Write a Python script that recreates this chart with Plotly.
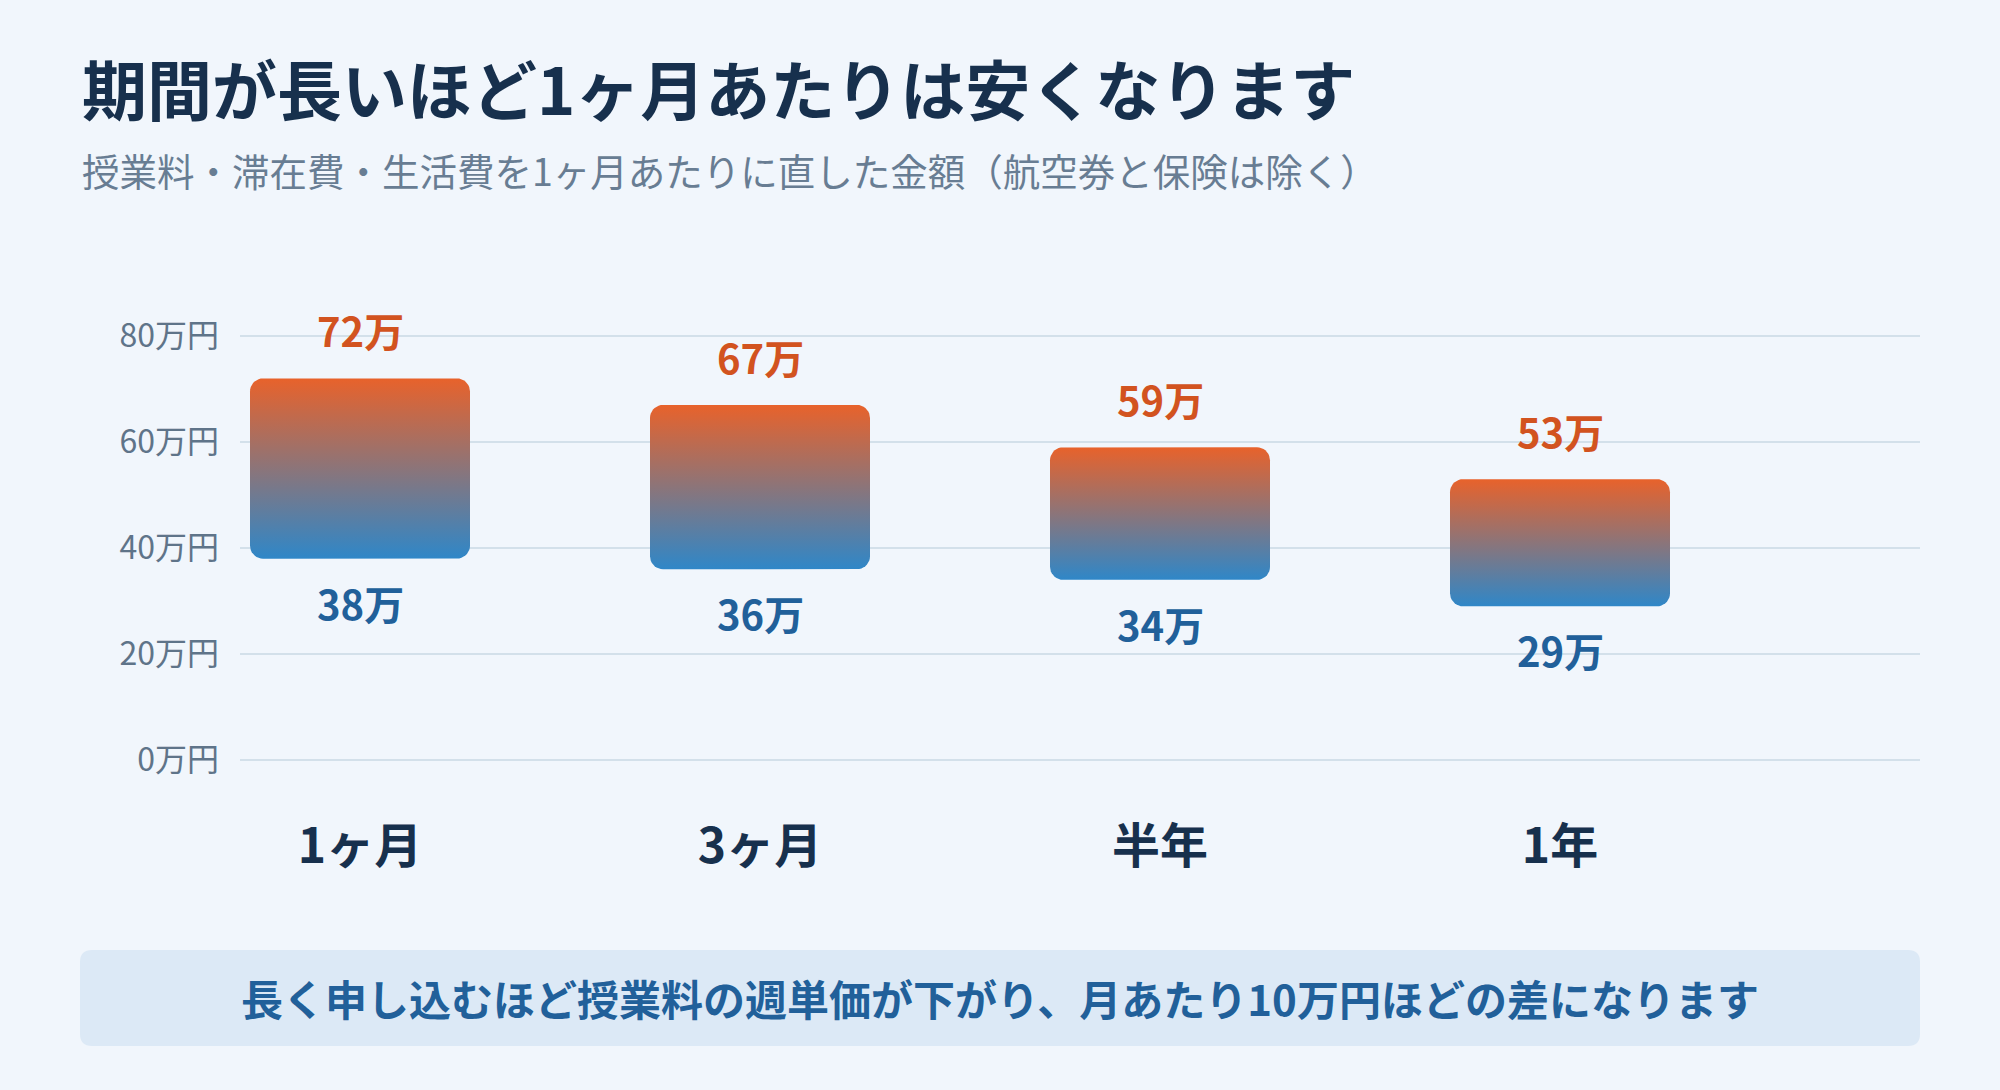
import numpy as np
import plotly.graph_objects as go

# 1ヶ月あたりの費用（万円）
periods = ["1ヶ月", "3ヶ月", "半年", "1年"]
high = [72, 67, 59, 53]
low = [38, 36, 34, 29]
y_ticks = [0, 20, 40, 60, 80]

title = "期間が長いほど1ヶ月あたりは安くなります"
subtitle = "授業料・滞在費・生活費を1ヶ月あたりに直した金額（航空券と保険は除く）"
note = "長く申し込むほど授業料の週単価が下がり、月あたり10万円ほどの差になります"

FONT = "Noto Sans CJK JP"
BG = "#f1f6fc"

W, H = 2000, 1090
M_L, M_R, M_T, M_B = 240, 80, 283, 314
X_RANGE = [-0.3, 3.9]
Y_RANGE = [-3, 90]
px_x = (W - M_L - M_R) / (X_RANGE[1] - X_RANGE[0])
px_y = (H - M_T - M_B) / (Y_RANGE[1] - Y_RANGE[0])


def rounded_bar(xc, lo, hi, w=0.55, r=13, n=10):
    # rounded rectangle outline in data units
    rx, ry = r / px_x, r / px_y
    x0, x1 = xc - w / 2, xc + w / 2
    corners = [
        (x1 - rx, hi - ry, 0, 90),
        (x0 + rx, hi - ry, 90, 180),
        (x0 + rx, lo + ry, 180, 270),
        (x1 - rx, lo + ry, 270, 360),
    ]
    xs, ys = [], []
    for cx, cy, a0, a1 in corners:
        t = np.radians(np.linspace(a0, a1, n))
        xs += list(cx + rx * np.cos(t))
        ys += list(cy + ry * np.sin(t))
    xs.append(xs[0])
    ys.append(ys[0])
    return xs, ys


fig = go.Figure()

for i, (lo, hi) in enumerate(zip(low, high)):
    xs, ys = rounded_bar(i, lo, hi)
    fig.add_trace(go.Scatter(
        x=xs, y=ys, mode="lines", fill="toself",
        line=dict(width=0, color="rgba(0,0,0,0)"),
        fillgradient=dict(type="vertical",
                          colorscale=[[0, "#2f87c8"], [1, "#e8622b"]]),
        hoverinfo="skip", showlegend=False,
    ))
    fig.add_annotation(x=i, y=hi, text=f"{hi}万", showarrow=False,
                       yanchor="middle", yshift=48,
                       font=dict(family=FONT, size=40, color="#d2531f", weight="bold"))
    fig.add_annotation(x=i, y=lo, text=f"{lo}万", showarrow=False,
                       yanchor="middle", yshift=-44,
                       font=dict(family=FONT, size=40, color="#21609a", weight="bold"))

# title / subtitle
pw, ph = W - M_L - M_R, H - M_T - M_B
fig.add_annotation(xref="paper", yref="paper", x=(80 - M_L) / pw,
                   y=(H - M_B - 87) / ph, xanchor="left", yanchor="middle",
                   text=title, showarrow=False,
                   font=dict(family=FONT, size=65, color="#17304d", weight="bold"))
fig.add_annotation(xref="paper", yref="paper", x=(80 - M_L) / pw,
                   y=(H - M_B - 170) / ph, xanchor="left", yanchor="middle",
                   text=subtitle, showarrow=False,
                   font=dict(family=FONT, size=37.5, color="#687d93"))

# note box
bx0, bx1 = (80 - M_L) / pw, (1920 - M_L) / pw
by0, by1 = (H - M_B - 1046) / ph, (H - M_B - 950) / ph
rxp, ryp = 12 / pw, 12 / ph
path = (f"M {bx0 + rxp},{by1} L {bx1 - rxp},{by1} Q {bx1},{by1} {bx1},{by1 - ryp} "
        f"L {bx1},{by0 + ryp} Q {bx1},{by0} {bx1 - rxp},{by0} "
        f"L {bx0 + rxp},{by0} Q {bx0},{by0} {bx0},{by0 + ryp} "
        f"L {bx0},{by1 - ryp} Q {bx0},{by1} {bx0 + rxp},{by1} Z")
fig.add_shape(type="path", xref="paper", yref="paper", path=path,
              fillcolor="#dce9f6", line=dict(width=0), layer="below")
fig.add_annotation(xref="paper", yref="paper", x=(bx0 + bx1) / 2, y=(by0 + by1) / 2,
                   text=note, showarrow=False, xanchor="center", yanchor="middle",
                   font=dict(family=FONT, size=42, color="#21609a", weight="bold"))

fig.update_layout(
    width=W, height=H,
    margin=dict(l=M_L, r=M_R, t=M_T, b=M_B),
    paper_bgcolor=BG, plot_bgcolor=BG,
    showlegend=False,
    xaxis=dict(range=X_RANGE, tickvals=list(range(len(periods))), ticktext=periods,
               showgrid=False, zeroline=False, showline=False, ticklabelstandoff=38,
               tickfont=dict(family=FONT, size=48, color="#17304d", weight="bold"),
               fixedrange=True),
    yaxis=dict(range=Y_RANGE, tickvals=y_ticks, ticktext=[f"{v}万円" for v in y_ticks],
               showgrid=True, gridcolor="#d3e0ea", gridwidth=2, zeroline=False,
               showline=False, ticklabelstandoff=20,
               tickfont=dict(family=FONT, size=32, color="#5f7489"),
               fixedrange=True),
)

fig.write_html("out.html", config={"displayModeBar": False},
               post_script="document.body.style.margin='0';"
               "document.body.style.background='#f1f6fc';")
